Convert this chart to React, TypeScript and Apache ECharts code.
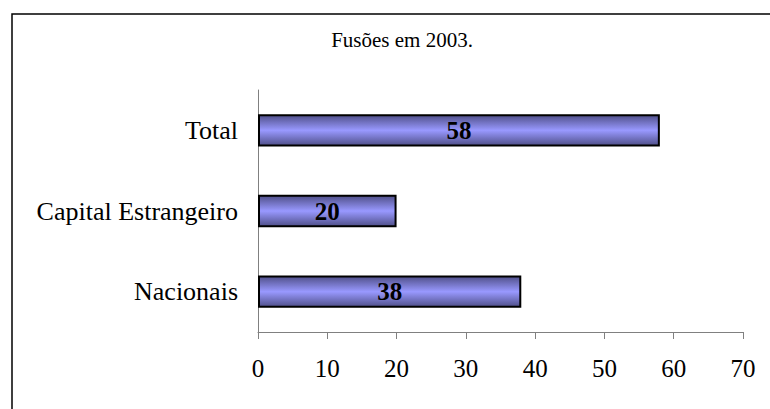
import React, { useEffect, useRef } from "react";
import * as echarts from "echarts";

const categories = ["Nacionais", "Capital Estrangeiro", "Total"];
const values = [38, 20, 58];
const titleText = "Fusões em 2003.";

export default function App() {
  const ref = useRef<HTMLDivElement>(null);
  useEffect(() => {
    if (!ref.current) return;
    const chart = echarts.init(ref.current, null, { renderer: "svg" });
    const font = "'Liberation Serif', 'Times New Roman', serif";
    chart.setOption({
      animation: false,
      backgroundColor: "#ffffff",
      title: {
        text: titleText,
        left: 397,
        top: 24,
        textAlign: "center",
        textStyle: { fontFamily: font, fontSize: 21, fontWeight: "normal", color: "#000" },
      },
      graphic: [
        {
          type: "rect",
          shape: { x: 12, y: 14, width: 800, height: 450 },
          style: { fill: "none", stroke: "#000", lineWidth: 1.5 },
          silent: true,
        },
      ],
      grid: { left: 258, right: 27, top: 90, bottom: 77, containLabel: false },
      xAxis: {
        type: "value",
        min: 0,
        max: 70,
        interval: 10,
        splitLine: { show: false },
        axisLine: { show: true, lineStyle: { color: "#808080", width: 1 } },
        axisTick: { show: true, length: 7, lineStyle: { color: "#808080" } },
        axisLabel: { fontFamily: font, fontSize: 25, color: "#000", margin: 24 },
      },
      yAxis: {
        type: "category",
        data: categories,
        axisLine: { show: true, lineStyle: { color: "#808080", width: 1 } },
        axisTick: { show: false },
        axisLabel: { fontFamily: font, fontSize: 26, color: "#000", margin: 20 },
      },
      series: [
        {
          type: "bar",
          data: values,
          barCategoryGap: "60%",
          itemStyle: {
            color: new echarts.graphic.LinearGradient(0, 0, 0, 1, [
              { offset: 0, color: "#50508a" },
              { offset: 0.5, color: "#9999ff" },
              { offset: 1, color: "#50508a" },
            ]),
            borderColor: "#000",
            borderWidth: 2,
          },
          label: {
            show: true,
            position: "inside",
            fontFamily: font,
            fontSize: 25,
            fontWeight: "bold",
            color: "#000",
          },
        },
      ],
    });
    return () => chart.dispose();
  }, []);
  return (
    <div
      ref={ref}
      style={{ position: "fixed", left: 0, top: 0, width: 770, height: 409 }}
    />
  );
}
